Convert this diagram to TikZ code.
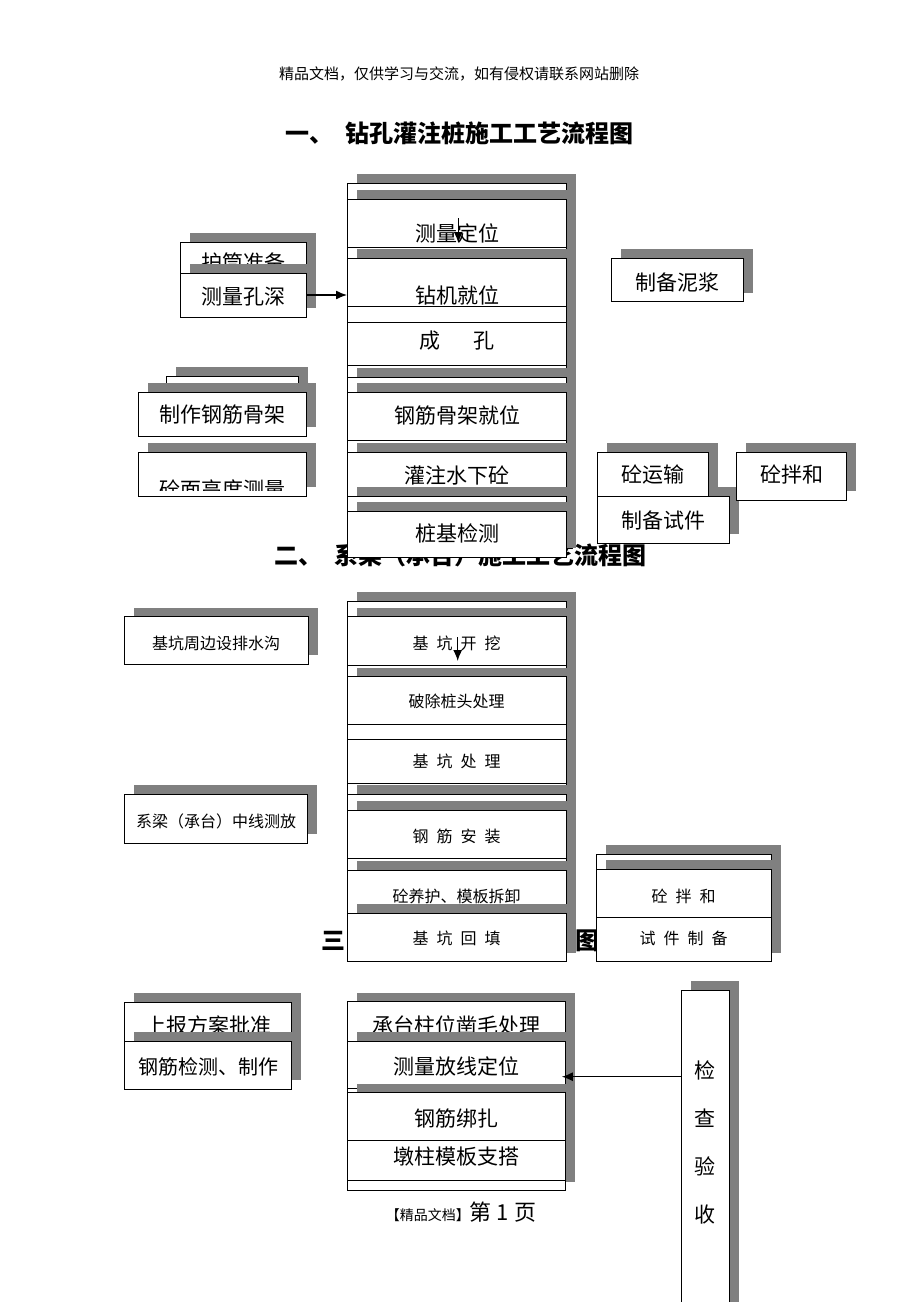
\documentclass[tikz,border=0pt]{standalone}
\usepackage{fontspec}
\setmainfont{Noto Sans CJK SC}
\usetikzlibrary{arrows.meta}
\definecolor{shdc}{RGB}{128,128,128}
\newcommand\SH[4]{\fill[shdc] ({#1+9.5},{#2-9}) rectangle ({#3+9.5},{#4-9});}
\newcommand\BX[5]{\node[boxn,minimum width={(#4-#2)*1pt},minimum height={(#5-#3)*1pt}] (#1) at (#2,#3) {};}
\newcommand\SBX[5]{\SH{#2}{#3}{#4}{#5}\BX{#1}{#2}{#3}{#4}{#5}}
\newcommand\fs[1]{\fontsize{#1}{#1}\selectfont}
\newcommand\kk{\hspace{0.5em}}
\tikzset{
  boxn/.style={draw,line width=0.8pt,fill=white,rectangle,inner sep=0pt,outer sep=0pt,anchor=north west},
  tl/.style={inner sep=0pt,outer sep=0pt},
  arr/.style={-{Latex[length=11pt,width=9pt]},line width=1.3pt},
  f14/.style={tl,font=\fs{14}},
  f15/.style={tl,font=\fs{15}},
  f16/.style={tl,font=\fs{16}},
  f20/.style={tl,font=\fs{20}},
  f21/.style={tl,font=\fs{21}},
  ttl/.style={tl,font=\fs{24}\bfseries},
}
\begin{document}
\begin{tikzpicture}[x=1pt,y=-1pt]
\clip (0,0) rectangle (920,1302);
\fill[white] (0,0) rectangle (920,1302);
% header and titles (behind boxes)
\node[f15] (hdr) at (459,74) {精品文档，仅供学习与交流，如有侵权请联系网站删除};
\node[ttl] (t1) at (459,133) {一、\kk 钻孔灌注桩施工工艺流程图};
\node[ttl] (t2) at (460,555) {二、\kk 系梁（承台）施工工艺流程图};
\node[ttl] (t3a) at (333,941) {三};
\node[ttl] (t3b) at (587,941) {图};

% ===== Section 1 : left boxes
\SBX{L1}{180}{242}{306}{290}
\node[f21] (L1t) at (243,262) {护筒准备};
\SBX{L2}{180}{273}{306}{317}
\node[f21] (L2t) at (243,297) {测量孔深};
\SBX{L3}{166}{376}{298}{400}
\SBX{L4}{138}{392}{306}{436}
\node[f21] (L4t) at (222,415) {制作钢筋骨架};
\SBX{L5}{138}{452}{306}{496}
\begin{scope}
\clip (138,452) rectangle (306,490.5);
\node[f21] (L5t) at (222,489) {砼面高度测量};
\end{scope}

% ===== Section 1 : main column
\SBX{c1}{347}{183}{566.7}{557}
\SBX{c1a}{347}{199}{566.7}{247}
\node[f21] (c1at) at (457,233) {测量定位};
\SBX{c1b}{347}{258}{566.7}{306}
\node[f21] (c1bt) at (457,295) {钻机就位};
\BX{c1c}{347}{322}{566.7}{365}
\node[f21] (c1ct) at (457,341) {成\hspace{33pt}孔};
\SBX{c1d}{347}{377}{566.7}{400}
\SBX{c1e}{347}{392}{566.7}{440}
\node[f21] (c1et) at (457,415) {钢筋骨架就位};
\SBX{c1f}{347}{452}{566.7}{496}
\node[f21] (c1ft) at (457,475) {灌注水下砼};
\SBX{c1g}{347}{496}{566.7}{515}
\SBX{c1h}{347}{511}{566.7}{557}
\node[f21] (c1ht) at (457,533) {桩基检测};
\coordinate (a1s) at (458.3,218);
\coordinate (a1e) at (458.3,243);
\draw[arr] (a1s) -- (a1e);
\draw[arr] (L2.east) -- (L2.east -| c1.west);

% ===== Section 1 : right boxes
\SBX{R1}{611.7}{258}{743}{301.7}
\node[f21] (R1t) at (677,282) {制备泥浆};
\SH{597}{496}{729}{543}
\SBX{R2}{597}{452}{708}{496}
\node[f21] (R2t) at (652.5,475) {砼运输};
\BX{R3}{597}{496}{729}{543}
\node[f21] (R3t) at (663,520) {制备试件};
\SBX{R4}{736.7}{452}{846.7}{500}
\node[f21] (R4t) at (792,475) {砼拌和};

% ===== Section 2 : left boxes
\SBX{M1}{124}{616.7}{308}{664}
\node[f16] (M1t) at (216,643) {基坑周边设排水沟};
\SBX{M2}{124.5}{794.3}{307.8}{843.3}
\node[f16] (M2t) at (216,821.7) {系梁（承台）中线测放};

% ===== Section 2 : main column
\SBX{c2}{347}{601}{566}{961.7}
\SBX{c2a}{347}{616.7}{566}{665}
\node[f16] (c2at) at (456.5,643) {基\kk 坑\kk 开\kk 挖};
\SBX{c2b}{347}{676.7}{566}{724.3}
\node[f16] (c2bt) at (456.5,701.7) {破除桩头处理};
\BX{c2c}{347}{739}{566}{783.3}
\node[f16] (c2ct) at (456.5,761.7) {基\kk 坑\kk 处\kk 理};
\SBX{c2d}{347}{794.3}{566}{820}
\SBX{c2e}{347}{810}{566}{858.3}
\node[f16] (c2et) at (456.5,836.7) {钢\kk 筋\kk 安\kk 装};
\SBX{c2f}{347}{870}{566}{913.3}
\node[f16] (c2ft) at (456.5,896) {砼养护、模板拆卸};
\SBX{c2g}{347}{913.3}{566}{961.7}
\node[f16] (c2gt) at (456.5,938.3) {基\kk 坑\kk 回\kk 填};
\coordinate (a2s) at (457.7,637);
\coordinate (a2e) at (457.7,661);
\draw[arr] (a2s) -- (a2e);

% ===== Section 2 : right column
\SBX{Q}{596}{854.3}{771}{961.7}
\SBX{Q1}{596}{869.3}{771}{917.7}
\node[f16] (Q1t) at (683.5,896) {砼\kk 拌\kk 和};
\BX{Q2}{596}{917.7}{771}{961.7}
\node[f16] (Q2t) at (683.5,938.3) {试\kk 件\kk 制\kk 备};

% ===== Section 3 : left boxes
\SBX{P1}{124.8}{1002.3}{291.3}{1050}
\node[f21] (P1t) at (208,1025) {上报方案批准};
\SBX{P2}{124.8}{1041}{291.3}{1089.3}
\node[f20] (P2t) at (208,1066.7) {钢筋检测、制作};

% ===== Section 3 : main column
\SBX{c3}{347.2}{1001.7}{565.8}{1190.7}
\BX{c3a}{347.2}{1001.7}{565.8}{1045}
\node[f21] (c3at) at (456.5,1025) {承台柱位凿毛处理};
\SBX{c3b}{347.2}{1041}{565.8}{1088.3}
\node[f21] (c3bt) at (456.5,1066.7) {测量放线定位};
\SBX{c3c}{347.2}{1092.7}{565.8}{1140.7}
\node[f21] (c3ct) at (456.5,1118.3) {钢筋绑扎};
\BX{c3d}{347.2}{1140.7}{565.8}{1180}
\node[f21] (c3dt) at (456.5,1156.7) {墩柱模板支搭};

% ===== Section 3 : inspection box
\SBX{K}{681}{990}{729.3}{1330}
\node[f21] (K1) at (705,1070) {检};
\node[f21] (K2) at (705,1118) {查};
\node[f21] (K3) at (705,1166.7) {验};
\node[f21] (K4) at (705,1215) {收};
\coordinate (a3y) at (0,1076.7);
\draw[arr,shorten >=-4pt] (K.west |- a3y) -- (c3b.east |- a3y);

% footer
\node[tl] (ftr) at (461,1211.7) {{\fs{14}【精品文档】}{\fs{22}第 1 页}};
\end{tikzpicture}
\end{document}
